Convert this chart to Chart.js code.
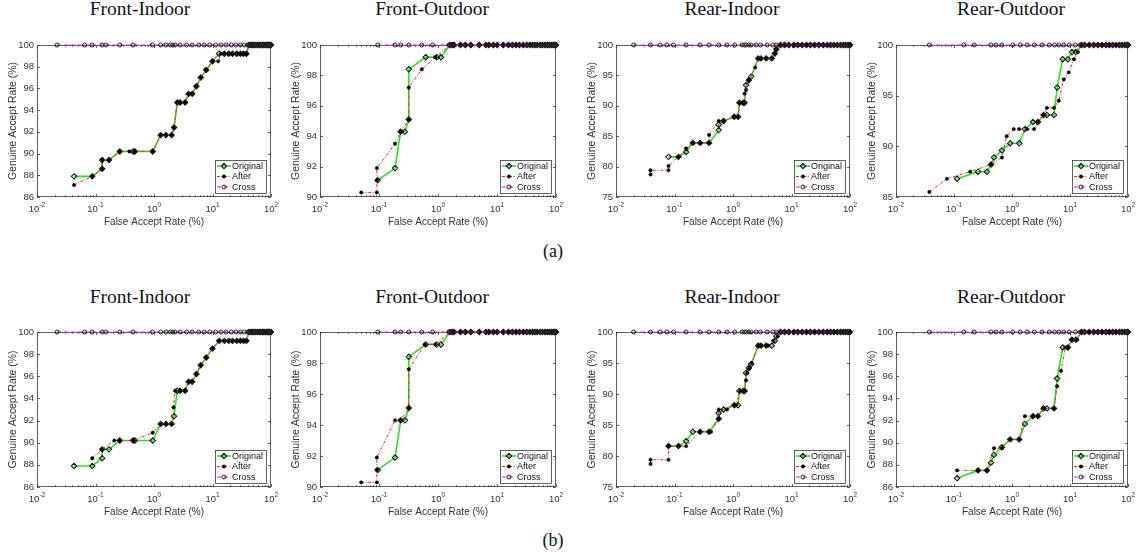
<!DOCTYPE html>
<html>
<head>
<meta charset="utf-8">
<script src="https://cdn.jsdelivr.net/npm/chart.js@4.4.1/dist/chart.umd.min.js"></script>
<style>
body { margin: 0; background: #fff; width: 1136px; height: 556px; position: relative; overflow: hidden; }
canvas { position: absolute; }
.ttl { position: absolute; width: 200px; text-align: center; font-family: "Liberation Serif", "DejaVu Serif", serif; font-weight: normal; font-size: 19.5px; line-height: 20px; color: #111; }
.sub { position: absolute; width: 60px; text-align: center; font-family: "Liberation Serif", "DejaVu Serif", serif; font-weight: normal; font-size: 18px; line-height: 18px; color: #111; }
</style>
</head>
<body>
<div class="ttl" style="left:40px;top:-1px">Front-Indoor</div>
<div class="ttl" style="left:332px;top:-1px">Front-Outdoor</div>
<div class="ttl" style="left:632px;top:-1px">Rear-Indoor</div>
<div class="ttl" style="left:911px;top:-1px">Rear-Outdoor</div>
<div class="ttl" style="left:40px;top:287px">Front-Indoor</div>
<div class="ttl" style="left:332px;top:287px">Front-Outdoor</div>
<div class="ttl" style="left:632px;top:287px">Rear-Indoor</div>
<div class="ttl" style="left:911px;top:287px">Rear-Outdoor</div>
<div class="sub" style="left:523px;top:242px">(a)</div>
<div class="sub" style="left:523px;top:531px">(b)</div>
<script>
// values: [FAR %, GAR %]

// Front-Indoor
const fiCross = [[0.022,100],[0.065,100],[0.087,100],[0.13,100],[0.15,100],[0.26,100],[0.44,100],[0.94,100],[1.3,100],[1.6,100],[1.9,100],[2.1,100],[2.3,100],[2.8,100],[3.6,100],[4.5,100],[5.8,100],[7.2,100],[9,100],[11.3,100],[14,100],[17,100],[21,100],[25,100],[30,100],[35,100],[40,100],[44,100],[48,100],[53,100],[58,100],[63,100],[68,100],[74,100],[80,100],[86,100],[93,100],[100,100]]
const fiOriginal = [[0.043,87.9],[0.088,87.9],[0.13,88.6],[0.13,89.4],[0.17,89.4],[0.26,90.2],[0.44,90.2],[0.47,90.2],[0.95,90.2],[1.3,91.7],[1.6,91.7],[2.0,91.7],[2.2,92.4],[2.5,94.7],[2.8,94.7],[3.4,94.7],[3.9,95.5],[4.5,95.5],[5.3,96.2],[6.3,97.0],[7.8,97.7],[10,98.5],[13,99.2],[16,99.2],[19,99.2],[22,99.2],[26,99.2],[30,99.2],[34,99.2],[38,99.2]]
const fiAfterA = [[0.043,87.1],[0.088,87.9],[0.13,88.6],[0.13,89.4],[0.17,89.4],[0.26,90.2],[0.38,90.2],[0.47,90.2],[0.95,90.2],[1.3,91.7],[1.6,91.7],[2.0,91.7],[2.2,92.4],[2.5,94.7],[2.8,94.7],[3.4,94.7],[3.9,95.5],[4.5,95.5],[5.3,96.2],[6.3,97.0],[7.8,97.7],[10,98.5],[12.5,98.5],[14,99.2],[16,99.2],[19,99.2],[22,99.2],[26,99.2],[30,99.2],[34,99.2],[38,99.2]]
const fiAfterB = [[0.088,88.6],[0.13,89.4],[0.21,90.2],[0.26,90.2],[0.44,90.2],[0.95,90.9],[1.3,91.7],[1.6,91.7],[2.0,91.7],[2.15,93.2],[2.3,94.7],[2.8,94.7],[3.4,94.7],[3.9,95.5],[4.5,95.5],[5.3,96.2],[6.3,97.0],[7.8,97.7],[10,98.5],[13,99.2],[16,99.2],[19,99.2],[22,99.2],[26,99.2],[30,99.2],[34,99.2],[38,99.2]]
const fiTail = [[42,100],[45,100],[48,100],[51,100],[55,100],[59,100],[63,100],[67,100],[71,100],[75,100],[79,100],[83,100],[87,100],[91,100],[95,100],[100,100]]

// Front-Outdoor
const foCross = [[0.095,100],[0.187,100],[0.233,100],[0.32,100],[0.53,100],[0.81,100],[1.53,100],[1.75,100],[1.87,100],[2.42,100],[2.94,100],[3.58,100],[4.96,100],[6.5,100],[7.3,100],[8.7,100],[10.1,100],[12.8,100],[15.6,100],[18.2,100],[21,100],[24,100],[27.9,100],[31.8,100],[36.3,100],[40,100],[44,100],[48,100],[53.6,100],[58.7,100],[65,100],[71,100],[77,100],[84.5,100],[90,100],[95,100],[100,100]]
const foOriginal = [[0.095,91.1],[0.187,91.9],[0.233,94.3],[0.275,94.3],[0.32,95.1],[0.32,98.4],[0.62,99.2],[0.95,99.2],[1.12,99.2],[1.6,100]]
const foAfterA = [[0.05,90.3],[0.092,90.3],[0.092,91.1],[0.092,91.9],[0.187,93.5],[0.233,94.3],[0.32,95.1],[0.32,97.2],[0.53,98.4],[0.9,99.2],[1.6,100]]
const foAfterB = [[0.05,90.3],[0.092,90.3],[0.092,91.1],[0.092,91.9],[0.187,94.3],[0.233,94.3],[0.32,95.1],[0.32,97.6],[0.6,99.2],[0.9,99.2],[1.6,100]]
const foTail = [[1.75,100],[1.87,100],[2.4,100],[2.9,100],[3.6,100],[5,100],[6.5,100],[7.3,100],[8.7,100],[10.1,100],[12.8,100],[15.6,100],[18.2,100],[21,100],[24,100],[28,100],[32,100],[36,100],[40,100],[44,100],[48,100],[54,100],[59,100],[65,100],[71,100],[77,100],[84,100],[90,100],[95,100],[100,100]]

// Rear-Indoor
const riCross = [[0.02,100],[0.039,100],[0.057,100],[0.074,100],[0.096,100],[0.158,100],[0.275,100],[0.39,100],[0.57,100],[0.79,100],[1.07,100],[1.43,100],[1.58,100],[1.69,100],[1.86,100],[2.04,100],[2.48,100],[2.94,100],[3.83,100],[4.8,100],[5.5,100],[6.5,100],[7.6,100],[9,100],[11,100],[12.8,100],[15.2,100],[18,100],[21,100],[24.8,100],[29.4,100],[34.9,100],[40.9,100],[46.6,100],[53,100],[60.7,100],[69,100],[76.9,100],[84.3,100],[92.5,100],[100,100]]
const riOriginal = [[0.079,81.6],[0.117,81.6],[0.158,82.4],[0.206,83.9],[0.275,83.9],[0.39,83.9],[0.57,86.0],[0.57,86.9],[0.69,87.5],[1.05,88.2],[1.22,88.2],[1.29,90.5],[1.49,90.5],[1.58,90.5],[1.67,93.4],[1.86,94.2],[2.04,94.8],[2.7,97.8],[3.0,97.8],[3.7,97.8],[4.6,97.8],[5.2,98.6],[5.5,99.3],[6.5,100]]
const riAfterA = [[0.039,78.7],[0.039,79.4],[0.079,79.4],[0.079,80.1],[0.117,81.6],[0.158,83.0],[0.206,83.9],[0.275,83.9],[0.39,83.9],[0.39,85.2],[0.57,87.5],[0.69,87.5],[1.05,88.2],[1.22,88.2],[1.29,90.5],[1.49,90.5],[1.58,92.0],[1.67,92.6],[1.86,94.2],[2.4,96.3],[2.7,97.8],[3.0,97.8],[3.7,97.8],[4.6,97.8],[5.2,98.6],[5.5,99.3],[6.5,100]]
const riAfterB = [[0.039,78.7],[0.039,79.4],[0.079,79.4],[0.079,81.6],[0.117,81.6],[0.158,81.6],[0.27,83.9],[0.39,83.9],[0.42,83.9],[0.57,86.0],[0.57,87.5],[0.79,87.5],[1.07,88.2],[1.12,88.2],[1.33,90.5],[1.58,90.5],[1.67,92.2],[1.75,93.4],[1.9,94.1],[2.1,95.0],[2.7,97.8],[3.0,97.8],[3.7,97.8],[4.0,97.8],[4.9,98.6],[5.8,99.3],[6.5,100]]
const riTail = [[7.6,100],[9,100],[11,100],[12.8,100],[15.2,100],[18,100],[21,100],[24.8,100],[29.4,100],[34.9,100],[40.9,100],[46.6,100],[53,100],[60.7,100],[69,100],[76.9,100],[84.3,100],[92.5,100],[100,100]]

// Rear-Outdoor
const roCross = [[0.0376,100],[0.147,100],[0.224,100],[0.435,100],[0.53,100],[0.67,100],[1.03,100],[1.39,100],[1.82,100],[2.43,100],[3.29,100],[4.4,100],[5.4,100],[6.4,100],[7.8,100],[9.7,100],[12.4,100],[15.1,100],[17.9,100],[21.5,100],[25.6,100],[30.4,100],[35.6,100],[41.7,100],[47.6,100],[54.4,100],[62,100],[71,100],[78.9,100],[87.7,100],[96,100],[100,100]]
const roOriginal = [[0.113,86.8],[0.26,87.5],[0.37,87.5],[0.435,88.2],[0.49,88.9],[0.67,89.6],[0.93,90.3],[1.33,90.3],[1.67,91.7],[2.3,92.4],[2.8,92.4],[3.5,93.1],[4.0,93.1],[5.3,93.1],[6.0,95.8],[7.5,98.6],[9.2,98.6],[10.8,99.3],[12.6,99.3],[15.9,100]]
const roAfterA = [[0.0376,85.5],[0.0757,86.8],[0.19,87.5],[0.435,88.2],[0.67,88.9],[0.81,91.0],[1.07,91.7],[1.33,91.7],[1.82,91.7],[2.4,91.7],[2.8,92.4],[3.5,93.1],[4.0,93.8],[5.3,93.8],[6.4,94.5],[7.8,96.6],[9.5,97.3],[11.7,98.6],[13.7,99.3],[15.9,100]]
const roAfterB = [[0.113,87.5],[0.26,87.5],[0.37,87.5],[0.49,89.5],[0.67,89.5],[0.93,90.3],[1.33,90.3],[1.67,92.4],[2.3,92.4],[2.8,92.4],[3.5,93.1],[5.3,93.1],[6.0,95.1],[7.0,96.5],[8.3,98.6],[9.2,98.6],[10.8,99.3],[13.2,99.3],[15.9,100]]
const roTail = [[17.9,100],[21.5,100],[25.6,100],[30.4,100],[35.6,100],[41.7,100],[47.6,100],[54.4,100],[62,100],[71,100],[78.9,100],[87.7,100],[96,100],[100,100]]

const xTitle = 'False Accept Rate (%)'
const yTitle = 'Genuine Accept Rate (%)'
const legendLabels = ['Original', 'After', 'Cross']

// panel placement (chart area in page pixels)
const panels = [
    { left: 37,  top: 45,  w: 234, h: 152, yMin: 86, yStep: 2, orig: fiOriginal, after: fiAfterA, tail: fiTail, cross: fiCross },
    { left: 320, top: 45,  w: 236, h: 152, yMin: 90, yStep: 2, orig: foOriginal, after: foAfterA, tail: foTail, cross: foCross },
    { left: 616, top: 45,  w: 234, h: 152, yMin: 75, yStep: 5, orig: riOriginal, after: riAfterA, tail: riTail, cross: riCross },
    { left: 896, top: 45,  w: 232, h: 152, yMin: 85, yStep: 5, orig: roOriginal, after: roAfterA, tail: roTail, cross: roCross },
    { left: 37,  top: 332, w: 234, h: 155, yMin: 86, yStep: 2, orig: fiOriginal, after: fiAfterB, tail: fiTail, cross: fiCross },
    { left: 320, top: 332, w: 236, h: 155, yMin: 90, yStep: 2, orig: foOriginal, after: foAfterB, tail: foTail, cross: foCross },
    { left: 616, top: 332, w: 234, h: 155, yMin: 75, yStep: 5, orig: riOriginal, after: riAfterB, tail: riTail, cross: riCross },
    { left: 896, top: 332, w: 232, h: 155, yMin: 86, yStep: 2, orig: roOriginal, after: roAfterB, tail: roTail, cross: roCross }
]

const pad = { top: 10, right: 8, left: 37, bottom: 36 }
const axisColor = '#3a3a3a'
const textColor = '#333'

function pts(arr) {
    return arr.map(p => ({ x: p[0], y: p[1] }))
}

function marker(ctx, style, x, y, r) {
    ctx.beginPath()
    if (style === 'rectRot') {
        ctx.moveTo(x, y - r); ctx.lineTo(x + r, y); ctx.lineTo(x, y + r); ctx.lineTo(x - r, y); ctx.closePath()
    } else {
        ctx.arc(x, y, r, 0, Math.PI * 2)
    }
}

const matlabAxes = {
    id: 'matlabAxes',
    beforeDatasetsDraw(chart) {
        const { ctx, chartArea: a, scales: { x, y } } = chart
        ctx.save()
        ctx.strokeStyle = axisColor
        ctx.lineWidth = 0.8
        ctx.strokeRect(a.left + 0.5, a.top + 0.5, a.right - a.left - 1, a.bottom - a.top - 1)
        ctx.beginPath()
        for (let k = -2; k <= 2; k++) {
            for (let m = 1; m <= 9; m++) {
                const v = m * Math.pow(10, k)
                if (v > 100) break
                const px = Math.round(x.getPixelForValue(v)) + 0.5
                const len = m === 1 ? 3 : 1.8
                ctx.moveTo(px, a.bottom); ctx.lineTo(px, a.bottom - len)
                ctx.moveTo(px, a.top); ctx.lineTo(px, a.top + len)
            }
        }
        y.ticks.forEach(t => {
            const py = Math.round(y.getPixelForValue(t.value)) + 0.5
            ctx.moveTo(a.left, py); ctx.lineTo(a.left + 3, py)
            ctx.moveTo(a.right, py); ctx.lineTo(a.right - 3, py)
        })
        ctx.stroke()
        // decade labels with superscript exponent
        ctx.fillStyle = textColor
        ctx.textBaseline = 'alphabetic'
        ctx.textAlign = 'left'
        for (let k = -2; k <= 2; k++) {
            const px = x.getPixelForValue(Math.pow(10, k))
            ctx.font = '9.5px "Liberation Sans", Arial, sans-serif'
            const wb = ctx.measureText('10').width
            ctx.font = '6.5px "Liberation Sans", Arial, sans-serif'
            const ex = String(k)
            const we = ctx.measureText(ex).width
            const x0 = px - (wb + we) / 2
            ctx.font = '9.5px "Liberation Sans", Arial, sans-serif'
            ctx.fillText('10', x0, a.bottom + 15)
            ctx.font = '6.5px "Liberation Sans", Arial, sans-serif'
            ctx.fillText(ex, x0 + wb, a.bottom + 10)
        }
        ctx.restore()
    },
    afterDatasetsDraw(chart) {
        const { ctx, chartArea: a } = chart
        const lw = 51, lh = 33
        const bx = Math.round(a.right - 5 - lw), by = Math.round(a.bottom - 4 - lh)
        ctx.save()
        ctx.fillStyle = '#fff'
        ctx.fillRect(bx, by, lw, lh)
        ctx.strokeStyle = axisColor
        ctx.lineWidth = 0.8
        ctx.strokeRect(bx + 0.5, by + 0.5, lw, lh)
        chart.data.datasets.forEach((ds, i) => {
            const cy = by + 6 + i * 10.5
            ctx.strokeStyle = ds.borderColor
            ctx.lineWidth = ds.borderWidth
            ctx.setLineDash(ds.borderDash || [])
            ctx.beginPath(); ctx.moveTo(bx + 2, cy); ctx.lineTo(bx + 16, cy); ctx.stroke()
            ctx.setLineDash([])
            marker(ctx, ds.pointStyle, bx + 9, cy, ds.pointRadius)
            ctx.fillStyle = ds.pointBackgroundColor
            ctx.fill()
            ctx.strokeStyle = ds.pointBorderColor
            ctx.lineWidth = ds.pointBorderWidth
            ctx.stroke()
            ctx.fillStyle = '#111'
            ctx.font = '9px "Liberation Sans", Arial, sans-serif'
            ctx.textAlign = 'left'
            ctx.textBaseline = 'middle'
            ctx.fillText(ds.label, bx + 17, cy + 0.5)
        })
        ctx.restore()
    }
}

function createPanel(p) {
    const canvas = document.createElement('canvas')
    const W = pad.left + p.w + pad.right
    const H = pad.top + p.h + pad.bottom
    canvas.width = W
    canvas.height = H
    canvas.style.width = W + 'px'
    canvas.style.height = H + 'px'
    canvas.style.left = (p.left - pad.left) + 'px'
    canvas.style.top = (p.top - pad.top) + 'px'
    document.body.appendChild(canvas)

    const config = {
        type: 'scatter',
        data: {
            datasets: [{
                label: legendLabels[0],
                data: pts(p.orig.concat(p.tail)),
                showLine: true,
                borderColor: '#22e622',
                borderWidth: 1.6,
                pointStyle: 'rectRot',
                pointRadius: 2.7,
                pointBorderColor: '#1a1a1a',
                pointBorderWidth: 1.1,
                pointBackgroundColor: 'rgba(0,0,0,0)',
                order: 3,
                clip: false
            }, {
                label: legendLabels[1],
                data: pts(p.after.concat(p.tail)),
                showLine: true,
                borderColor: '#ff1f1f',
                borderWidth: 1,
                borderDash: [3, 1.5, 1, 1.5],
                pointStyle: 'circle',
                pointRadius: 1.7,
                pointBorderColor: '#000',
                pointBorderWidth: 0.5,
                pointBackgroundColor: '#000',
                order: 2,
                clip: false
            }, {
                label: legendLabels[2],
                data: pts(p.cross),
                showLine: true,
                borderColor: '#ff00ff',
                borderWidth: 1,
                borderDash: [4, 3],
                pointStyle: 'circle',
                pointRadius: 2,
                pointBorderColor: '#222',
                pointBorderWidth: 1,
                pointBackgroundColor: 'rgba(0,0,0,0)',
                order: 1,
                clip: false
            }]
        },
        options: {
            responsive: false,
            animation: false,
            devicePixelRatio: 1,
            layout: {
                padding: { top: pad.top, right: pad.right, left: 0, bottom: 0 }
            },
            plugins: {
                legend: { display: false },
                tooltip: { enabled: false }
            },
            scales: {
                x: {
                    type: 'logarithmic',
                    min: 0.01,
                    max: 100,
                    grid: { display: false, drawTicks: false },
                    border: { display: false },
                    ticks: { display: false },
                    title: {
                        display: true, text: xTitle, color: textColor,
                        font: { family: '"Liberation Sans", Arial, sans-serif', size: 10 },
                        padding: { top: 0, bottom: 4.5 }
                    },
                    afterFit: s => { s.height = pad.bottom }
                },
                y: {
                    min: p.yMin,
                    max: 100,
                    grid: { display: false, drawTicks: false },
                    border: { display: false },
                    ticks: {
                        stepSize: p.yStep, color: textColor, padding: 3,
                        font: { family: '"Liberation Sans", Arial, sans-serif', size: 9.5 }
                    },
                    title: {
                        display: true, text: yTitle, color: textColor,
                        font: { family: '"Liberation Sans", Arial, sans-serif', size: 10.4 },
                        padding: { top: 6.5, bottom: 0 }
                    },
                    afterFit: s => { s.width = pad.left }
                }
            }
        },
        plugins: [matlabAxes]
    }

    new Chart(canvas, config)
}

panels.forEach(createPanel)
</script>
</body>
</html>
